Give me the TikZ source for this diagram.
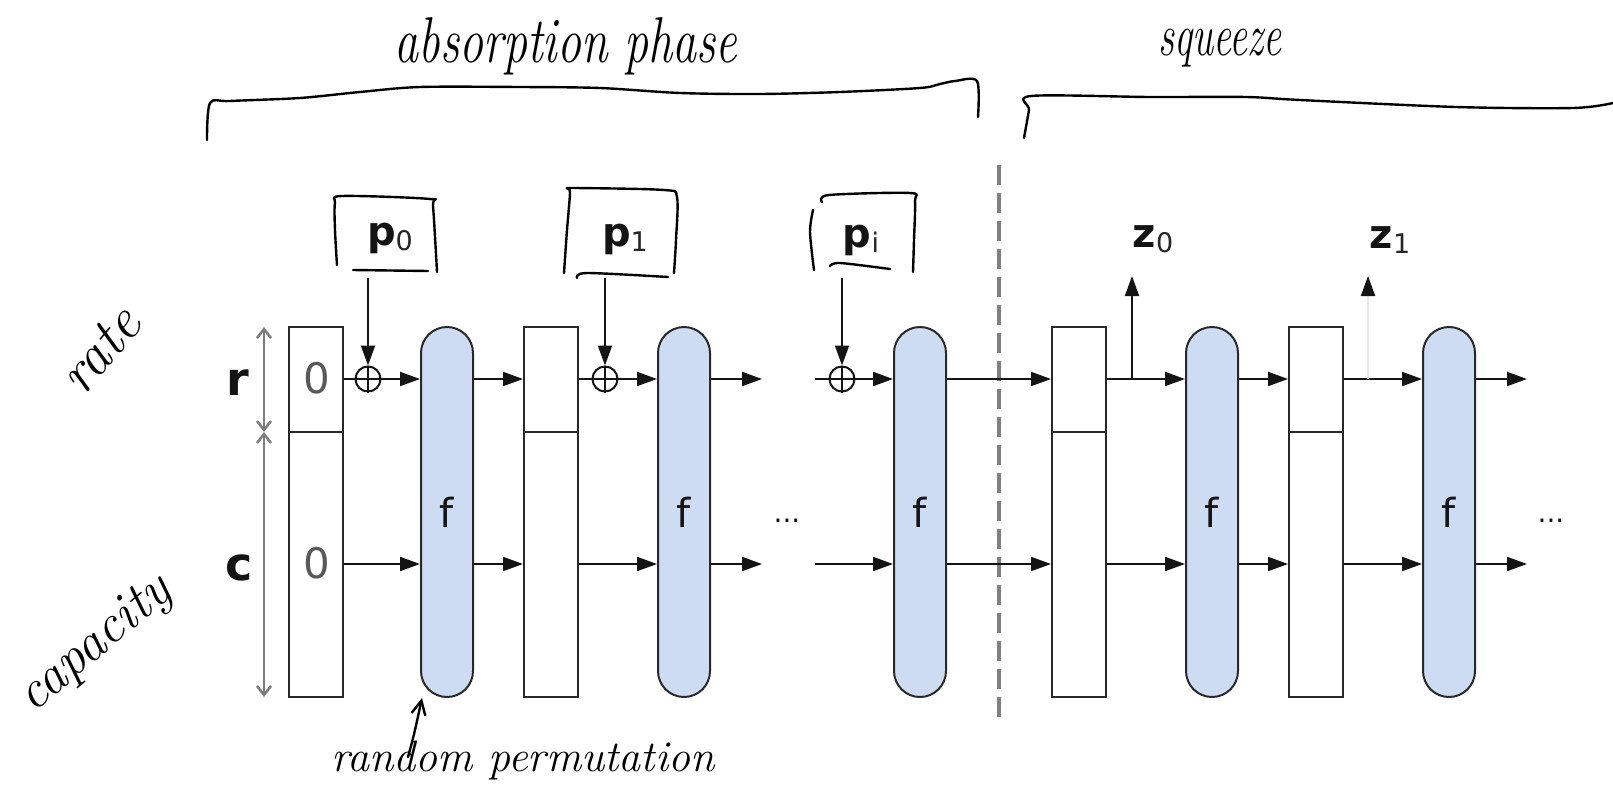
\documentclass[tikz,border=0pt]{standalone}
\usepackage{fontspec}
\newfontfamily\dv{DejaVu Sans}
\usetikzlibrary{arrows.meta,calc}
\definecolor{fblue}{RGB}{206,220,243}
\definecolor{ink}{RGB}{20,20,20}
\definecolor{edge}{RGB}{40,40,40}
\definecolor{dimgray}{RGB}{125,125,125}
\newcommand{\lab}[2]{{\bfseries #1}\raisebox{-0.14em}{\fontsize{27}{27}\selectfont\mdseries\color{black!85}#2}}
\begin{document}
\begin{tikzpicture}[x=1pt,y=-1pt,
 statebox/.style={draw=edge,line width=2pt,fill=white,minimum width=54pt,minimum height=370pt,inner sep=0pt},
 fbox/.style={draw=edge,line width=2pt,fill=fblue,rounded corners=26pt,minimum width=52pt,minimum height=370pt,inner sep=0pt,font=\dv\fontsize{40}{40}\selectfont,text=ink},
 conn/.style={draw=ink,line width=2pt},
 arr/.style={conn,-{Triangle[length=20pt,width=14pt]}},
 xor/.style={circle,draw=ink,line width=2pt,minimum size=25pt,inner sep=0pt},
 lbl/.style={font=\dv\fontsize{40}{40}\selectfont,text=ink,inner sep=0pt,anchor=base},
 zero/.style={font=\dv\fontsize{42}{42}\selectfont,text=black!65,inner sep=0pt},
 dots/.style={font=\dv\fontsize{28}{28}\selectfont,text=ink,inner sep=0pt,anchor=base},
 handline/.style={draw=black,line width=2.4pt,line cap=round,line join=round},
 handtext/.style={text=black,inner sep=0pt},
 dimline/.style={draw=dimgray,line width=2.5pt,{Straight Barb[length=9pt,width=14pt]}-{Straight Barb[length=9pt,width=14pt]}},
]
\useasboundingbox (0,0) rectangle (1613,787);
\fill[white] (0,0) rectangle (1613,787);

\coordinate (R) at (0,379);
\coordinate (C) at (0,564);
\coordinate (D) at (0,432);

% phase separator
\coordinate (sepT) at (999,165);
\coordinate (sepB) at (999,724);
\draw[draw=black!50,line width=3.5pt,dash pattern=on 20pt off 8pt] (sepT) -- (sepB);

% state boxes and permutation boxes
\node[statebox] (b1) at (316,512) {};
\node[statebox] (b2) at (551,512) {};
\node[statebox] (b3) at (1079,512) {};
\node[statebox] (b4) at (1316,512) {};
\foreach \b in {b1,b2,b3,b4}{\draw[draw=edge,line width=2pt] (\b.west |- D) -- (\b.east |- D);}
\node[fbox] (f1) at (447,512) {f};
\node[fbox] (f2) at (684,512) {f};
\node[fbox] (f3) at (920,512) {f};
\node[fbox] (f4) at (1212,512) {f};
\node[fbox] (f5) at (1449,512) {f};

\node[zero] (zr) at (317,378) {0};
\node[zero] (zc) at (317,563) {0};

% xor nodes
\node[xor] (x1) at (368,379) {};
\node[xor] (x2) at (605,379) {};
\node[xor] (x3) at (842,379) {};
\foreach \x in {x1,x2,x3}{\draw[conn,line width=1.8pt] (\x.north) -- (\x.south) (\x.west) -- (\x.east);}

% free ends
\coordinate (e1r) at (762,379);
\coordinate (e1c) at (762,564);
\coordinate (s3r) at (815,379);
\coordinate (s3c) at (815,564);
\coordinate (e2r) at (1527,379);
\coordinate (e2c) at (1527,564);

% rate row
\draw[conn] (b1.east |- R) -- (x1);
\draw[arr] (x1) -- (f1.west |- R);
\draw[arr] (f1.east |- R) -- (b2.west |- R);
\draw[conn] (b2.east |- R) -- (x2);
\draw[arr] (x2) -- (f2.west |- R);
\draw[arr] (f2.east |- R) -- (e1r);
\draw[conn] (s3r) -- (x3);
\draw[arr] (x3) -- (f3.west |- R);
\draw[arr] (f3.east |- R) -- (b3.west |- R);
\draw[arr] (b3.east |- R) -- (f4.west |- R);
\draw[arr] (f4.east |- R) -- (b4.west |- R);
\draw[arr] (b4.east |- R) -- (f5.west |- R);
\draw[arr] (f5.east |- R) -- (e2r);

% capacity row
\draw[arr] (b1.east |- C) -- (f1.west |- C);
\draw[arr] (f1.east |- C) -- (b2.west |- C);
\draw[arr] (b2.east |- C) -- (f2.west |- C);
\draw[arr] (f2.east |- C) -- (e1c);
\draw[arr] (s3c) -- (f3.west |- C);
\draw[arr] (f3.east |- C) -- (b3.west |- C);
\draw[arr] (b3.east |- C) -- (f4.west |- C);
\draw[arr] (f4.east |- C) -- (b4.west |- C);
\draw[arr] (b4.east |- C) -- (f5.west |- C);
\draw[arr] (f5.east |- C) -- (e2c);

\node[dots] (d1) at (787,522) {...};
\node[dots] (d2) at (1551,522) {...};

% inputs
\node[lbl] (p0) at (390,245) {\lab{p}{0}};
\node[lbl] (p1) at (625,246) {\lab{p}{1}};
\node[lbl] (pi) at (861,247) {\lab{p}{i}};
\coordinate (a0) at (368,278);
\coordinate (a1) at (605,278);
\coordinate (a2) at (842,278);
\draw[arr] (a0) -- (x1.north);
\draw[arr] (a1) -- (x2.north);
\draw[arr] (a2) -- (x3.north);

% outputs
\node[lbl] (z0) at (1153,247) {\lab{z}{0}};
\node[lbl] (z1) at (1390,248) {\lab{z}{1}};
\coordinate (j0) at (1132,379);
\coordinate (o0) at (1132,276);
\coordinate (j1) at (1368,379);
\coordinate (o1) at (1368,276);
\draw[arr] (j0) -- (o0);
\draw[draw=black!10,line width=2pt,-{Triangle[length=20pt,width=14pt,color=ink]}] (j1) -- (o1);

% r / c dimension
\coordinate (dt) at (264,327);
\coordinate (dm) at (264,432);
\coordinate (db) at (264,697);
\draw[dimline] (dt) -- (dm);
\draw[dimline] (dm) -- (db);
\node[lbl,font=\dv\bfseries\fontsize{46}{46}\selectfont] (rl) at (238,395) {r};
\node[lbl,font=\dv\bfseries\fontsize{46}{46}\selectfont] (cl) at (239,580) {c};

% handwritten annotations
\draw[handline] plot[smooth] coordinates {(337,265) (335,230) (335,203) (342,196) (430,199) (433,206) (437,272)};
\draw[handline] plot[smooth] coordinates {(353,270) (428,271)};
\draw[handline] plot[smooth] coordinates {(564,273) (567,230) (570,193) (568,189) (575,188) (664,190) (677,197) (676,240) (674,273)};
\draw[handline] plot[smooth] coordinates {(577,278) (587,273) (668,277)};
\draw[handline] plot[smooth] coordinates {(814,270) (810,232) (813,210)};
\draw[handline] plot[smooth] coordinates {(822,202) (829,195) (910,193) (915,201) (914,240) (913,272)};
\draw[handline] plot[smooth] coordinates {(830,266) (840,263) (890,269)};

\draw[handline] plot[smooth] coordinates {(207,140) (210,103) (230,101) (300,98) (360,92) (420,87) (520,87) (600,88) (680,93) (760,94) (840,92) (920,88) (940,84) (955,81) (977,81) (978,117)};
\draw[handline] plot[smooth] coordinates {(1024,138) (1029,110) (1031,96) (1150,97) (1246,97) (1300,100) (1456,107) (1573,108) (1613,103)};

\node[handtext,font=\itshape\fontsize{48}{48}\selectfont,yscale=1.35] (abs) at (566,46) {absorption phase};
\node[handtext,font=\itshape\fontsize{40}{40}\selectfont,yscale=1.5] (sq) at (1220,48) {squeeze};
\node[handtext,font=\itshape\fontsize{58}{58}\selectfont,rotate=50] (rate) at (100,350) {rate};
\node[handtext,font=\itshape\fontsize{54}{54}\selectfont,rotate=40] (cap) at (96,645) {capacity};
\node[handtext,font=\itshape\fontsize{44}{44}\selectfont] (rp) at (523,760) {random permutation};
\coordinate (rpa) at (408,757);
\draw[handline,-{Straight Barb[length=14pt,width=14pt]}] (rpa) .. controls (414,735) .. (f1.south -| 422,703);
\end{tikzpicture}
\end{document}
